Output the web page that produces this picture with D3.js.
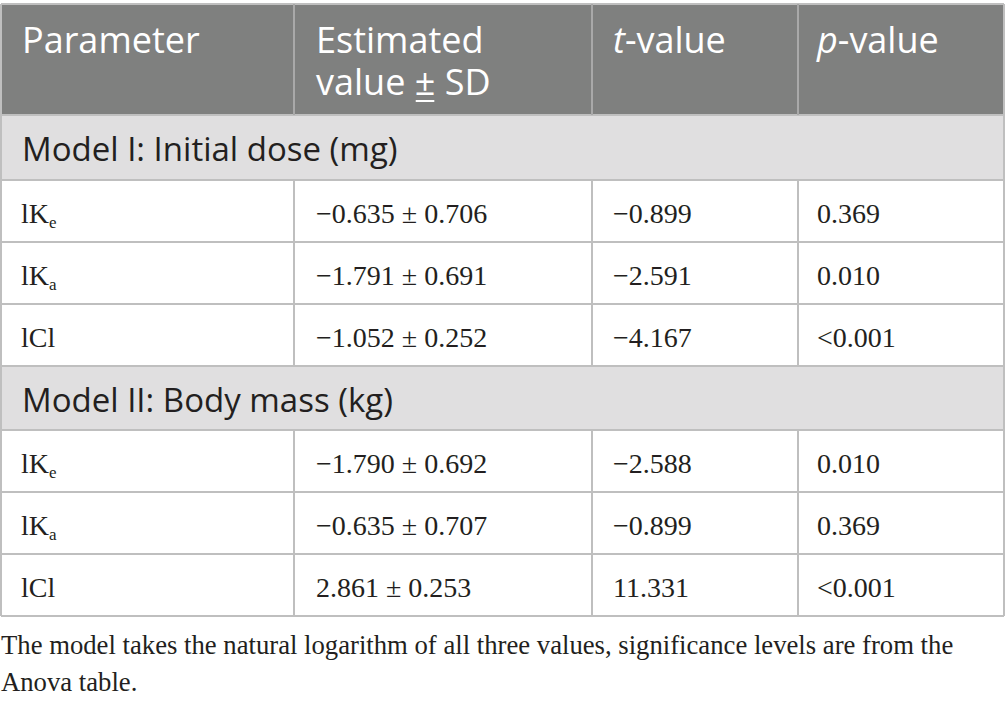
<!DOCTYPE html>
<html>
<head>
<meta charset="utf-8">
<script src="https://cdn.jsdelivr.net/npm/d3@7"></script>
<style>
  body { margin: 0; background: #fff; }
  .head { font-family: "Open Sans", sans-serif; fill: #fff; }
  .group { font-family: "Open Sans", sans-serif; fill: #231f20; }
  .cell, .note { font-family: "Liberation Serif", "DejaVu Serif", serif; fill: #231f20; }
</style>
</head>
<body>
<svg id="chart" width="1005" height="706"></svg>
<script>
// table values
const models = ["Model I: Initial dose (mg)", "Model II: Body mass (kg)"];
const paramNames = [["K", "e"], ["K", "a"], ["Cl", ""]];
const estimates = [[-0.635, -1.791, -1.052], [-1.790, -0.635, 2.861]];
const sds = [[0.706, 0.691, 0.252], [0.692, 0.707, 0.253]];
const tValues = [[-0.899, -2.591, -4.167], [-2.588, -0.899, 11.331]];
const pValues = [["0.369", "0.010", "<0.001"], ["0.010", "0.369", "<0.001"]];
const note = ["The model takes the natural logarithm of all three values, significance levels are from the",
              "Anova table."];

const svg = d3.select("#chart");
const colEdges = [1, 294, 592, 798, 1004];
const lineColor = "#bfbfbf";
const fmt = (v) => (v < 0 ? "\u2212" : "") + d3.format(".3f")(Math.abs(v));

// row layout: header, then for each model a group row + 3 data rows
const rows = [{ type: "head", h: 111 }];
models.forEach((m, i) => {
  rows.push({ type: "group", h: i === 0 ? 65 : 64, label: m });
  paramNames.forEach((p, j) => rows.push({ type: "data", h: 62, model: i, idx: j }));
});
let yy = 4;
rows.forEach((r) => { r.y = yy; yy += r.h; });
const tableBottom = yy;

const g = svg.append("g");

// backgrounds
g.selectAll("rect.bg")
  .data(rows)
  .join("rect")
  .attr("class", "bg")
  .attr("x", colEdges[0])
  .attr("y", (d) => d.y)
  .attr("width", colEdges[4] - colEdges[0])
  .attr("height", (d) => d.h)
  .attr("fill", (d) => d.type === "head" ? "#7f807f" : d.type === "group" ? "#e0dfe0" : "#fff");

// horizontal lines
g.selectAll("line.h")
  .data(rows.map((r) => r.y).concat([tableBottom]))
  .join("line")
  .attr("class", "h")
  .attr("x1", colEdges[0]).attr("x2", colEdges[4])
  .attr("y1", (d) => d).attr("y2", (d) => d)
  .attr("stroke", lineColor).attr("stroke-width", 2);

// vertical lines (skip inner lines in group rows)
const vSegs = [];
rows.forEach((r) => {
  colEdges.forEach((x, k) => {
    if (r.type === "group" && k > 0 && k < 4) return;
    vSegs.push({ x: x, y1: r.y, y2: r.y + r.h, head: r.type === "head" && k > 0 && k < 4 });
  });
});
g.selectAll("line.v")
  .data(vSegs)
  .join("line")
  .attr("class", "v")
  .attr("x1", (d) => d.x).attr("x2", (d) => d.x)
  .attr("y1", (d) => d.y1).attr("y2", (d) => d.y2)
  .attr("stroke", (d) => d.head ? "#a9a9a9" : lineColor)
  .attr("stroke-width", 2);

// header text
const head = rows[0];
const hx = [22, 316, 613, 817];
const ht = g.append("g").attr("class", "head").style("font-size", "36px");
ht.append("text").attr("x", hx[0]).attr("y", head.y + 49).text("Parameter");
const est = ht.append("text").attr("x", hx[1]).attr("y", head.y + 49);
est.append("tspan").text("Estimated");
est.append("tspan").attr("x", hx[1]).attr("dy", 42).text("value \u00b1 SD");
ht.append("text").attr("x", hx[2]).attr("y", head.y + 49)
  .call((t) => { t.append("tspan").style("font-style", "italic").text("t"); t.append("tspan").text("-value"); });
ht.append("text").attr("x", hx[3]).attr("y", head.y + 49)
  .call((t) => { t.append("tspan").style("font-style", "italic").text("p"); t.append("tspan").text("-value"); });

// group rows
g.selectAll("text.group")
  .data(rows.filter((r) => r.type === "group"))
  .join("text")
  .attr("class", "group")
  .attr("x", hx[0])
  .attr("y", (d) => d.y + 46)
  .style("font-size", "33px")
  .text((d) => d.label);

// data rows
const dataRows = rows.filter((r) => r.type === "data");
const cells = g.selectAll("g.row")
  .data(dataRows)
  .join("g")
  .attr("class", "row cell")
  .attr("transform", (d) => `translate(0,${d.y + 43})`)
  .style("font-size", "28px");

cells.append("text")
  .attr("x", 21)
  .each(function (d) {
    const p = paramNames[d.idx];
    const t = d3.select(this);
    t.append("tspan").text("l" + p[0]);
    if (p[1]) t.append("tspan").attr("dy", 5).style("font-size", "17px").text(p[1]);
  });
cells.append("text").attr("x", hx[1])
  .text((d) => fmt(estimates[d.model][d.idx]) + " \u00b1 " + d3.format(".3f")(sds[d.model][d.idx]));
cells.append("text").attr("x", hx[2]).text((d) => fmt(tValues[d.model][d.idx]));
cells.append("text").attr("x", hx[3]).text((d) => pValues[d.model][d.idx]);

// footnote
g.selectAll("text.note")
  .data(note)
  .join("text")
  .attr("class", "note")
  .attr("x", 1)
  .attr("y", (d, i) => tableBottom + 38 + i * 37)
  .style("font-size", "26.7px")
  .text((d) => d);

// underline below the ± sign in the header
const estNode = est.node();
const n = "Estimated".length + "value ".length;
const ext = estNode.getExtentOfChar(n);
ht.append("line")
  .attr("x1", ext.x + 1).attr("x2", ext.x + ext.width - 1)
  .attr("y1", head.y + 97).attr("y2", head.y + 97)
  .attr("stroke", "#fff").attr("stroke-width", 2);
</script>
</body>
</html>
